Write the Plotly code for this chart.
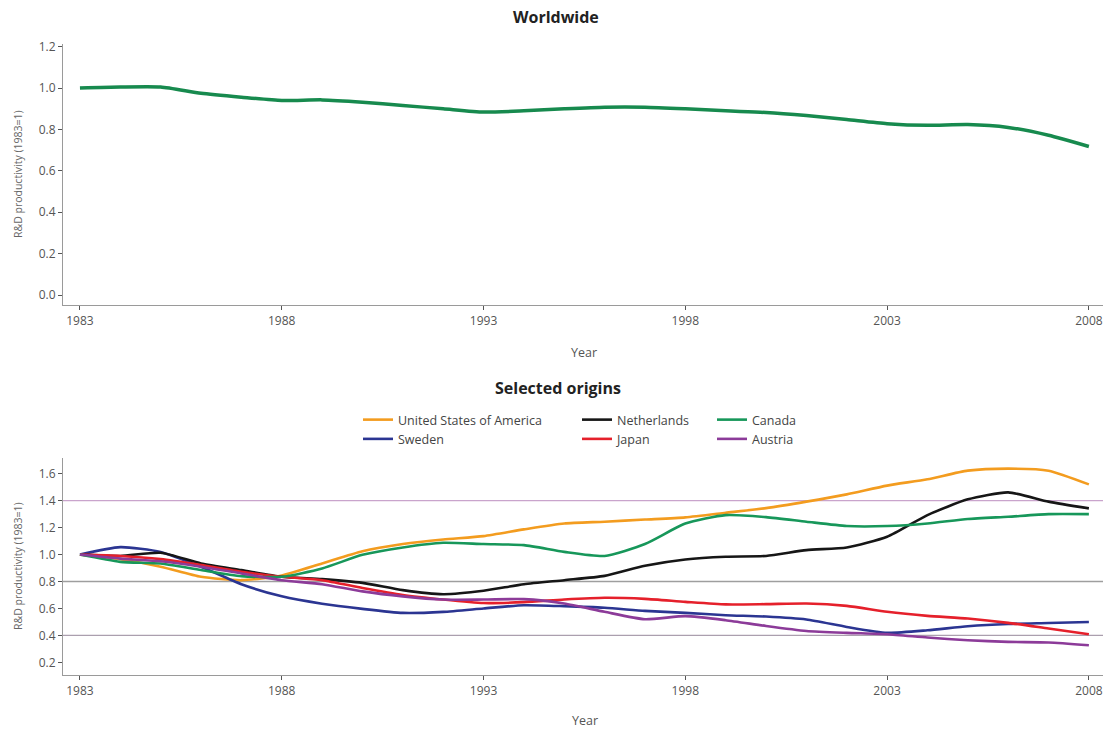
import plotly.graph_objects as go

# ---- data -------------------------------------------------------------
years = list(range(1983, 2009))
tick_years = [1983, 1988, 1993, 1998, 2003, 2008]
tick_year_labels = ["1983", "1988", "1993", "1998", "2003", "2008"]

worldwide = [1.00, 1.005, 1.005, 0.975, 0.956, 0.94, 0.943, 0.932, 0.916, 0.90,
             0.884, 0.89, 0.90, 0.908, 0.908, 0.90, 0.89, 0.882, 0.867, 0.848,
             0.828, 0.82, 0.824, 0.81, 0.772, 0.718]

usa = [1.00, 0.965, 0.91, 0.835, 0.81, 0.845, 0.934, 1.025, 1.078, 1.112,
       1.137, 1.187, 1.231, 1.244, 1.26, 1.276, 1.31, 1.345, 1.393, 1.447,
       1.512, 1.559, 1.623, 1.638, 1.623, 1.521]
netherlands = [1.00, 0.99, 1.013, 0.934, 0.885, 0.835, 0.818, 0.79, 0.736, 0.706,
               0.731, 0.78, 0.81, 0.842, 0.917, 0.964, 0.984, 0.99, 1.033, 1.053,
               1.132, 1.293, 1.41, 1.462, 1.393, 1.343]
canada = [1.00, 0.946, 0.934, 0.885, 0.84, 0.835, 0.897, 0.998, 1.053, 1.088,
          1.078, 1.07, 1.02, 0.99, 1.078, 1.23, 1.293, 1.278, 1.244, 1.212,
          1.212, 1.231, 1.264, 1.281, 1.30, 1.30]
sweden = [1.00, 1.055, 1.02, 0.91, 0.78, 0.69, 0.635, 0.597, 0.567, 0.575,
          0.60, 0.624, 0.617, 0.605, 0.582, 0.567, 0.55, 0.54, 0.518, 0.463,
          0.419, 0.438, 0.468, 0.485, 0.492, 0.50]
japan = [1.00, 0.99, 0.966, 0.922, 0.872, 0.835, 0.81, 0.752, 0.70, 0.666,
         0.64, 0.647, 0.666, 0.679, 0.671, 0.649, 0.63, 0.632, 0.637, 0.619,
         0.575, 0.545, 0.525, 0.493, 0.451, 0.409]
austria = [1.00, 0.97, 0.95, 0.91, 0.86, 0.81, 0.78, 0.727, 0.69, 0.666,
           0.666, 0.669, 0.637, 0.575, 0.52, 0.543, 0.513, 0.47, 0.433, 0.419,
           0.409, 0.384, 0.364, 0.352, 0.347, 0.327]

top_ticks = [0.0, 0.2, 0.4, 0.6, 0.8, 1.0, 1.2]
bottom_ticks = [0.2, 0.4, 0.6, 0.8, 1.0, 1.2, 1.4, 1.6]
reference_levels = [1.4, 0.8, 0.4]

# ---- figure -----------------------------------------------------------
W, H = 1108, 733
FONT = "Open Sans"
TICK_COL = "#555555"
AXIS_COL = "#9a9a9a"


def px_x(p):
    return p / W


def px_y(p):
    return 1 - p / H


fig = go.Figure()

fig.add_trace(go.Scatter(
    x=years, y=worldwide, mode="lines", name="Worldwide",
    line=dict(color="#178a4e", width=3.5, shape="spline", smoothing=0.6),
    xaxis="x", yaxis="y", showlegend=False))

series = [
    ("United States of America", usa, "#f39c1f", "legend"),
    ("Sweden", sweden, "#2b3592", "legend"),
    ("Netherlands", netherlands, "#161616", "legend2"),
    ("Japan", japan, "#e5202b", "legend2"),
    ("Canada", canada, "#17975a", "legend3"),
    ("Austria", austria, "#8c3b99", "legend3"),
]
for name, vals, col, leg in series:
    fig.add_trace(go.Scatter(
        x=years, y=vals, mode="lines", name=name,
        line=dict(color=col, width=2.6, shape="spline", smoothing=0.6),
        xaxis="x2", yaxis="y2", legend=leg))

x_dom = [px_x(63), px_x(1103)]
x_range = [1982.58, 2008.35]

common_x = dict(
    domain=x_dom, range=x_range, tickmode="array", tickvals=tick_years,
    ticktext=tick_year_labels, showgrid=False, zeroline=False,
    showline=True, linecolor=AXIS_COL, linewidth=1.2,
    ticks="outside", ticklen=4, tickcolor=TICK_COL,
    tickfont=dict(family=FONT, size=12, color=TICK_COL), automargin=False)

common_y = dict(
    showgrid=False, zeroline=False, showline=True, linecolor=AXIS_COL,
    linewidth=1.2, ticks="outside", ticklen=4, tickcolor=TICK_COL,
    tickformat=".1f", tickfont=dict(family=FONT, size=12, color=TICK_COL),
    automargin=False)

fig.update_layout(
    xaxis=dict(anchor="y", **common_x),
    yaxis=dict(anchor="x", domain=[px_y(305), px_y(44)], range=[-0.048, 1.213],
               tickvals=top_ticks, **common_y),
    xaxis2=dict(anchor="y2", **common_x),
    yaxis2=dict(anchor="x2", domain=[px_y(675), px_y(458)], range=[0.106, 1.717],
                tickvals=bottom_ticks, **common_y),
)

# reference lines across the lower panel
ref_colors = {1.4: "#c9a4cc", 0.8: "#9e9e9e", 0.4: "#ab9fae"}
for lvl in reference_levels:
    fig.add_shape(type="line", xref="x2 domain", yref="y2", x0=0, x1=1,
                  y0=lvl, y1=lvl, layer="below",
                  line=dict(color=ref_colors[lvl], width=1.3))

legend_common = dict(
    orientation="v", yanchor="top", xanchor="left", bgcolor="rgba(0,0,0,0)",
    font=dict(family=FONT, size=12.5, color="#444444"), tracegroupgap=0,
    itemwidth=30)
fig.update_layout(
    legend=dict(x=px_x(358), y=px_y(405), **legend_common),
    legend2=dict(x=px_x(577), y=px_y(405), **legend_common),
    legend3=dict(x=px_x(712), y=px_y(405), **legend_common),
)

annotations = [
    dict(text="<b>Worldwide</b>", x=px_x(556), y=px_y(17), font=dict(size=16)),
    dict(text="<b>Selected origins</b>", x=px_x(558), y=px_y(388), font=dict(size=16)),
    dict(text="Year", x=px_x(584), y=px_y(352), font=dict(size=12.5, color="#555555")),
    dict(text="Year", x=px_x(585), y=px_y(720), font=dict(size=12.5, color="#555555")),
    dict(text="R&D productivity (1983=1)", x=px_x(18), y=px_y(174), textangle=-90,
         font=dict(size=10.5, color="#666666")),
    dict(text="R&D productivity (1983=1)", x=px_x(18), y=px_y(566), textangle=-90,
         font=dict(size=10.5, color="#666666")),
]
for a in annotations:
    a.setdefault("font", {})
    a["font"].setdefault("family", FONT)
    a["font"].setdefault("color", "#222222")
    fig.add_annotation(xref="paper", yref="paper", showarrow=False,
                       xanchor="center", yanchor="middle", **a)

fig.update_layout(
    width=W, height=H, margin=dict(l=0, r=0, t=0, b=0),
    paper_bgcolor="white", plot_bgcolor="white",
    font=dict(family=FONT),
)

fig.write_html("out.html")
